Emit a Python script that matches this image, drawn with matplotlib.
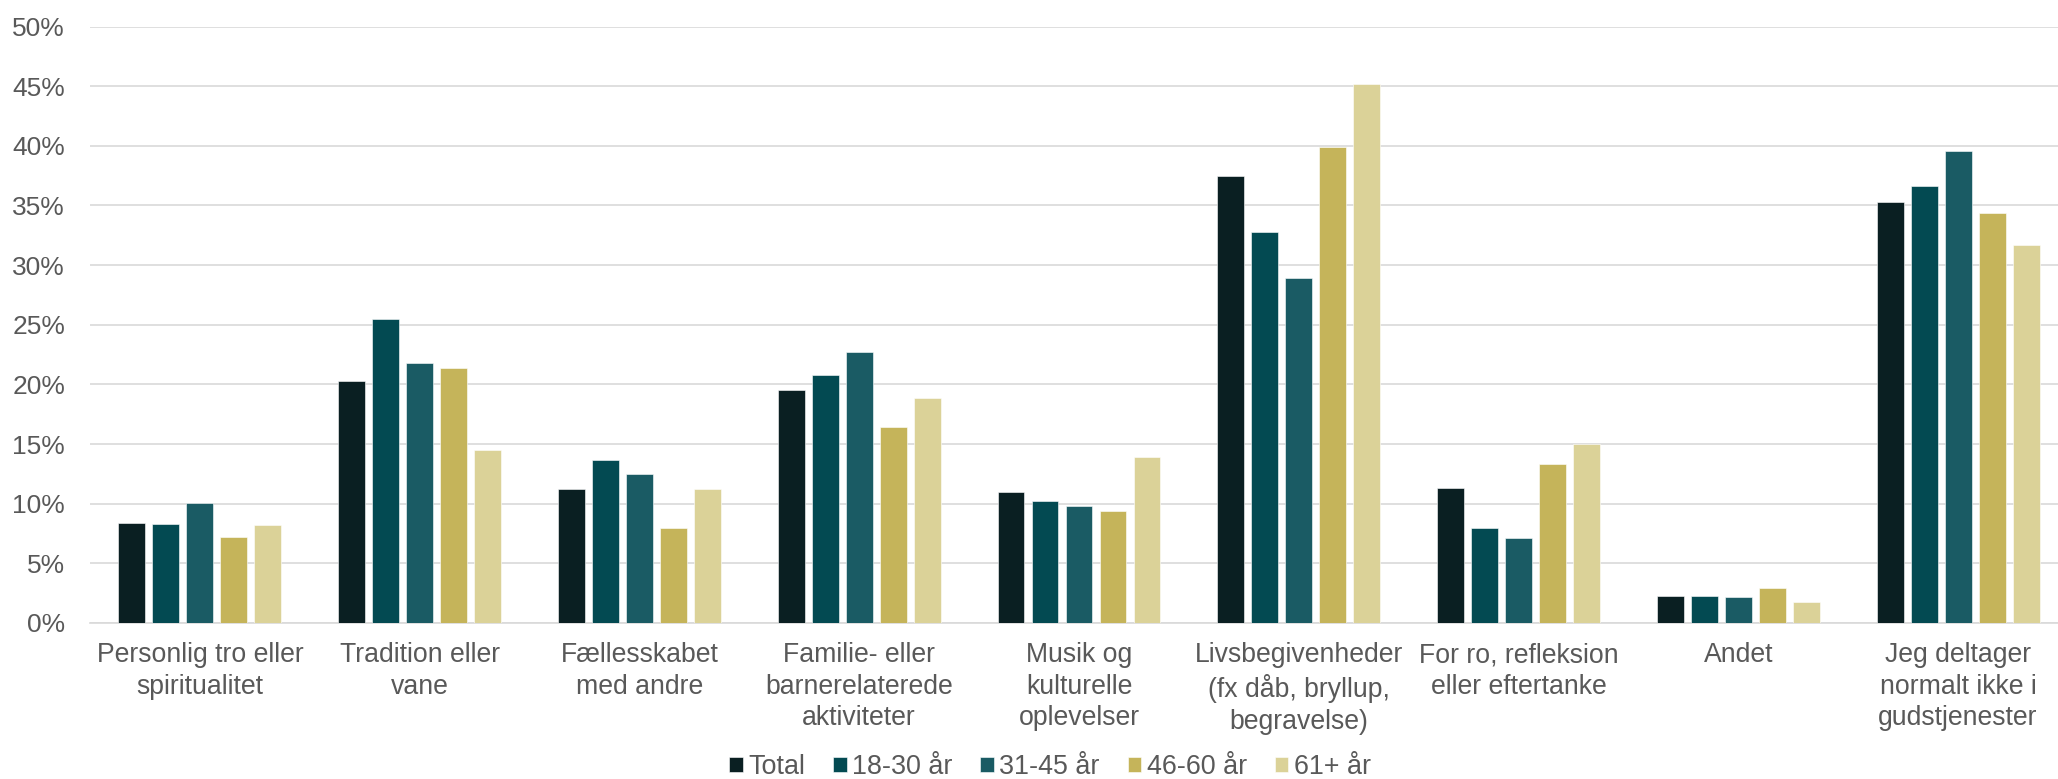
import matplotlib
matplotlib.use("Agg")
import matplotlib.pyplot as plt
import numpy as np
from matplotlib.ticker import FuncFormatter, MultipleLocator

plt.rcParams['font.family'] = ['Liberation Sans', 'DejaVu Sans']

categories = [
    "Personlig tro eller\nspiritualitet",
    "Tradition eller\nvane",
    "Fællesskabet\nmed andre",
    "Familie- eller\nbarnerelaterede\naktiviteter",
    "Musik og\nkulturelle\noplevelser",
    "Livsbegivenheder\n(fx dåb, bryllup,\nbegravelse)",
    "For ro, refleksion\neller eftertanke",
    "Andet",
    "Jeg deltager\nnormalt ikke i\ngudstjenester",
]
series_names = ["Total", "18-30 år", "31-45 år", "46-60 år", "61+ år"]
total = [8.4, 20.3, 11.2, 19.5, 11.0, 37.5, 11.3, 2.3, 35.3]
age_18_30 = [8.3, 25.5, 13.7, 20.8, 10.2, 32.8, 8.0, 2.3, 36.6]
age_31_45 = [10.1, 21.8, 12.5, 22.7, 9.8, 28.9, 7.1, 2.2, 39.6]
age_46_60 = [7.2, 21.4, 8.0, 16.4, 9.4, 39.9, 13.3, 2.9, 34.4]
age_61_plus = [8.2, 14.5, 11.2, 18.9, 13.9, 45.2, 15.0, 1.8, 31.7]
colors = ["#0a1f22", "#034a52", "#1a5b64", "#c5b45a", "#dbd298"]

series = [total, age_18_30, age_31_45, age_46_60, age_61_plus]

W, H = 2058, 779
fig = plt.figure(figsize=(W / 100, H / 100), dpi=100)
ax_left, ax_right, ax_top, ax_bottom = 90, 2068, 26.5, 623
ax = fig.add_axes([ax_left / W, 1 - ax_bottom / H, (ax_right - ax_left) / W, (ax_bottom - ax_top) / H])

x = np.arange(len(categories))
pitch = 0.1547
width = 0.1228
for i, (vals, name, c) in enumerate(zip(series, series_names, colors)):
    offs = (i - 2) * pitch
    ax.bar(x + offs, np.array(vals) / 100, width=width, color=c, label=name,
           edgecolor='white', linewidth=0.4, zorder=3)

ax.set_xlim(-0.5, len(categories) - 0.5)
ax.set_ylim(0, 0.5)
ax.yaxis.set_major_locator(MultipleLocator(0.05))
ax.yaxis.set_major_formatter(FuncFormatter(lambda v, p: f"{round(v*100)}%"))
ax.grid(axis='y', color='#d9d9d9', linewidth=1.2, zorder=0)
ax.set_axisbelow(True)
for s in ['top', 'right', 'left']:
    ax.spines[s].set_visible(False)
ax.spines['bottom'].set_color('#d9d9d9')
ax.spines['bottom'].set_linewidth(1.2)
ax.set_xticks(x)
ax.set_xticklabels(categories, fontsize=19.2, color='#595959', linespacing=1.26)
ax.tick_params(axis='x', length=0, pad=14)
ax.tick_params(axis='y', length=0, pad=18, labelsize=19, labelcolor='#595959')

leg = fig.legend(loc='center', bbox_to_anchor=(1050 / W, 1 - 767 / H), ncol=5,
                 frameon=False, fontsize=19.4, handlelength=0.5, handleheight=0.5,
                 handletextpad=0.2, columnspacing=1.04, labelcolor='#595959',
                 borderpad=0, borderaxespad=0)

fig.savefig("out.png", dpi=100, facecolor='white')
